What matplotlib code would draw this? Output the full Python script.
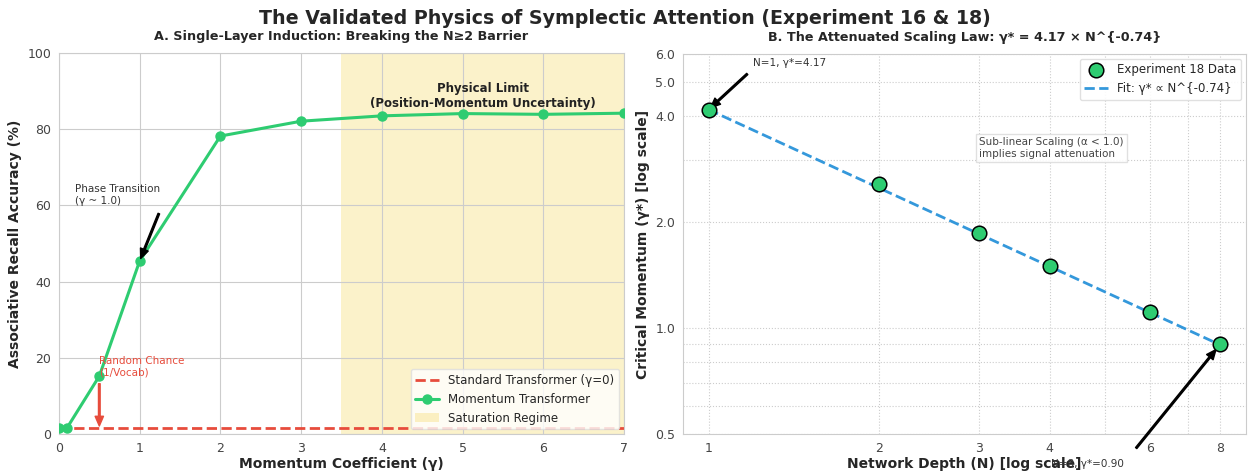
import numpy as np
import matplotlib
matplotlib.use('Agg')
import matplotlib.pyplot as plt
import seaborn as sns
from matplotlib.ticker import FixedLocator, FormatStrFormatter, NullFormatter

sns.set_style('whitegrid')

# Experiment 16: single-layer recall vs momentum coefficient
gamma = [0.0, 0.1, 0.5, 1.0, 2.0, 3.0, 4.0, 5.0, 6.0, 7.0]
recall_momentum = [1.5, 1.6, 15.2, 45.4, 78.2, 82.1, 83.5, 84.1, 83.9, 84.2]
recall_standard = 1.5

# Experiment 18: critical momentum vs depth
depth = [1, 2, 3, 4, 6, 8]
gamma_crit = [4.17, 2.56, 1.86, 1.50, 1.11, 0.90]
fit_coef = 4.17
fit_exp = -0.74

GREEN = '#2ecc71'
RED = '#e74c3c'
BLUE = '#3498db'

fig = plt.figure(figsize=(12.49, 4.74), dpi=100)
ax1 = fig.add_axes([0.0472, 0.0844, 0.4524, 0.8038])
ax2 = fig.add_axes([0.5468, 0.0844, 0.4508, 0.8017])

fig.suptitle('The Validated Physics of Symplectic Attention (Experiment 16 & 18)',
             fontsize=13.7, fontweight='bold', y=0.98)

# ---- Panel A ----
span = ax1.axvspan(3.5, 7, color='#f1c40f', alpha=0.22, lw=0, label='Saturation Regime', zorder=0)
std_line = ax1.axhline(recall_standard, color=RED, ls='--', lw=2,
                       label='Standard Transformer (γ=0)', zorder=2)
mom_line, = ax1.plot(gamma, recall_momentum, '-o', color=GREEN, lw=2.2, ms=6.5,
                     label='Momentum Transformer', zorder=3)

ax1.set_xlim(0, 7)
ax1.set_ylim(0, 100)
ax1.set_xlabel('Momentum Coefficient (γ)', fontsize=10, fontweight='bold', labelpad=2)
ax1.set_ylabel('Associative Recall Accuracy (%)', fontsize=10, fontweight='bold')
ax1.set_title('A. Single-Layer Induction: Breaking the N≥2 Barrier',
              fontsize=9.2, fontweight='bold', pad=9)
ax1.tick_params(labelsize=9, labelcolor='#444444', pad=2)

ax1.text(5.25, 88.6, 'Physical Limit\n(Position-Momentum Uncertainty)', ha='center', va='center',
         fontsize=8.5, fontweight='bold', color='#222222')

ax1.text(0.2, 65.5, 'Phase Transition\n(γ ~ 1.0)', ha='left', va='top', fontsize=7.5,
         color='#333333')
ax1.annotate('', xy=(gamma[3], recall_momentum[3]), xytext=(1.25, 58.5),
             arrowprops=dict(facecolor='black', edgecolor='black', shrink=0.05,
                             width=1.2, headwidth=6, headlength=7))

ax1.text(0.5, 20.5, 'Random Chance\n(1/Vocab)', ha='left', va='top', fontsize=7.5, color=RED)
ax1.annotate('', xy=(0.5, recall_standard + 0.6), xytext=(0.5, 13.2),
             arrowprops=dict(facecolor=RED, edgecolor=RED, shrink=0.0,
                             width=1.2, headwidth=6, headlength=7))

leg1 = ax1.legend(handles=[std_line, mom_line, span], loc='lower right', fontsize=8.5,
                  frameon=True, framealpha=0.8, borderaxespad=0.4)
leg1.get_frame().set_edgecolor('#dddddd')

# ---- Panel B ----
n_fit = np.linspace(min(depth), max(depth), 100)
ax2.scatter(depth, gamma_crit, s=110, color=GREEN, edgecolors='black', linewidths=1.1,
            zorder=4, label='Experiment 18 Data')
ax2.plot(n_fit, fit_coef * n_fit ** fit_exp, '--', color=BLUE, lw=2,
         label='Fit: γ* ∝ N^{%.2f}' % fit_exp, zorder=3)

ax2.set_xscale('log')
ax2.set_yscale('log')
ax2.set_ylim(0.5, 6.0)
ax2.xaxis.set_major_locator(FixedLocator(depth))
ax2.xaxis.set_major_formatter(FormatStrFormatter('%d'))
ax2.xaxis.set_minor_formatter(NullFormatter())
ax2.yaxis.set_major_locator(FixedLocator([0.5, 1.0, 2.0, 4.0, 5.0, 6.0]))
ax2.yaxis.set_major_formatter(FormatStrFormatter('%.1f'))
ax2.yaxis.set_minor_formatter(NullFormatter())
ax2.grid(True, which='both', ls=':', lw=0.8, color='#cccccc')
ax2.tick_params(labelsize=9, labelcolor='#444444', pad=2)

ax2.set_xlabel('Network Depth (N) [log scale]', fontsize=10, fontweight='bold', labelpad=2)
ax2.set_ylabel('Critical Momentum (γ*) [log scale]', fontsize=10, fontweight='bold')
ax2.set_title('B. The Attenuated Scaling Law: γ* = %.2f × N^{%.2f}' % (fit_coef, fit_exp),
              fontsize=9.2, fontweight='bold', pad=9)

ax2.text(1.2, 5.66, 'N=%d, γ*=%.2f' % (depth[0], gamma_crit[0]), ha='left', va='center',
         fontsize=7.5, color='#333333')
ax2.annotate('', xy=(depth[0], gamma_crit[0]), xytext=(1.18, 5.33),
             arrowprops=dict(facecolor='black', edgecolor='black', shrink=0.05,
                             width=1.2, headwidth=6, headlength=7))

ax2.text(5.4, 0.41, 'N=%d, γ*=%.2f' % (depth[-1], gamma_crit[-1]), ha='right', va='center',
         fontsize=7.5, color='#333333', zorder=1)
ax2.annotate('', xy=(depth[-1], gamma_crit[-1]), xytext=(5.58, 0.44),
             annotation_clip=False,
             arrowprops=dict(facecolor='black', edgecolor='black', shrink=0.05,
                             width=1.2, headwidth=6, headlength=7, clip_on=False))

ax2.text(3.0, 3.48, 'Sub-linear Scaling (α < 1.0)\nimplies signal attenuation', ha='left',
         va='top', fontsize=7.5, color='#444444',
         bbox=dict(boxstyle='square,pad=0.3', fc='white', ec='#dddddd', alpha=0.9))

leg2 = ax2.legend(loc='upper right', fontsize=8.5, frameon=True, framealpha=0.9,
                  borderaxespad=0.4)
leg2.get_frame().set_edgecolor('#dddddd')

for ax in (ax1, ax2):
    for s in ax.spines.values():
        s.set_edgecolor('#cccccc')

fig.savefig('out.png', dpi=100)
